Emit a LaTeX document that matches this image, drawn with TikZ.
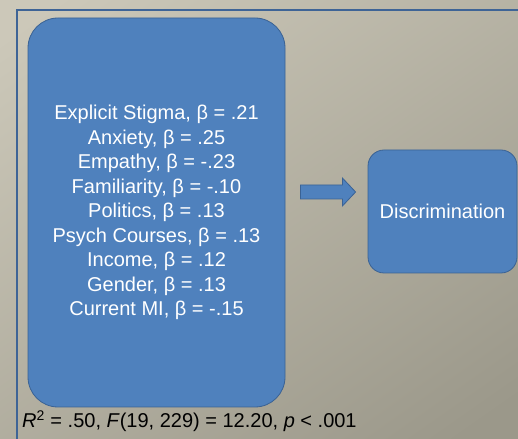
\documentclass[tikz,border=0pt]{standalone}
\usepackage{fontspec}
\setmainfont{Liberation Sans}
\usepackage{tikz}
\usetikzlibrary{calc}
\definecolor{bgtop}{RGB}{204,200,185}
\definecolor{bgbot}{RGB}{155,152,138}
\definecolor{boxblue}{RGB}{79,129,189}
\definecolor{boxline}{RGB}{58,98,148}
\definecolor{frameblue}{RGB}{62,100,150}

\begin{document}
\begin{tikzpicture}[x=1pt, y=1pt,
  varbox/.style={draw=boxline, fill=boxblue, line width=0.8pt, text=white,
    font=\fontsize{20}{24.5}\selectfont, align=center, inner sep=0pt}]
\useasboundingbox (0,0) rectangle (518,438);
\clip (0,0) rectangle (518,438);
% background and frame
\shade[top color=bgtop, bottom color=bgbot, shading angle=35] (-60,-60) rectangle (578,498);
\draw[frameblue, line width=1.8pt] (17,428) rectangle (540,-20);
% predictors
\node[varbox, rounded corners=30pt, minimum width=257pt, minimum height=389pt] (pred) at (156.5,225.5)
  {Explicit Stigma, β = .21\\
   Anxiety, β = .25\\
   Empathy, β = -.23\\
   Familiarity, β = -.10\\
   Politics, β = .13\\
   Psych Courses, β = .13\\
   Income, β = .12\\
   Gender, β = .13\\
   Current MI, β = -.15};
% outcome
\node[varbox, rounded corners=16pt, minimum width=149pt, minimum height=123pt] (outcome) at (442.5,226.5) {Discrimination};
% block arrow
\draw[boxline, fill=boxblue, line width=0.8pt]
  ($(pred.east)+(15,27.5)$) -- ++(42,0) -- ++(0,7) -- ($(outcome.west)+(-12,19.5)$)
  -- ($(pred.east)+(57,6.5)$) -- ++(0,7) -- ++(-42,0) -- cycle;
% model fit
\node[anchor=base west, inner sep=0pt, font=\fontsize{20}{24}\selectfont] (fit) at (22,10)
  {\textit{R}\textsuperscript{2} = .50, \textit{F}(19, 229) = 12.20, \textit{p} < .001};
\end{tikzpicture}
\end{document}
